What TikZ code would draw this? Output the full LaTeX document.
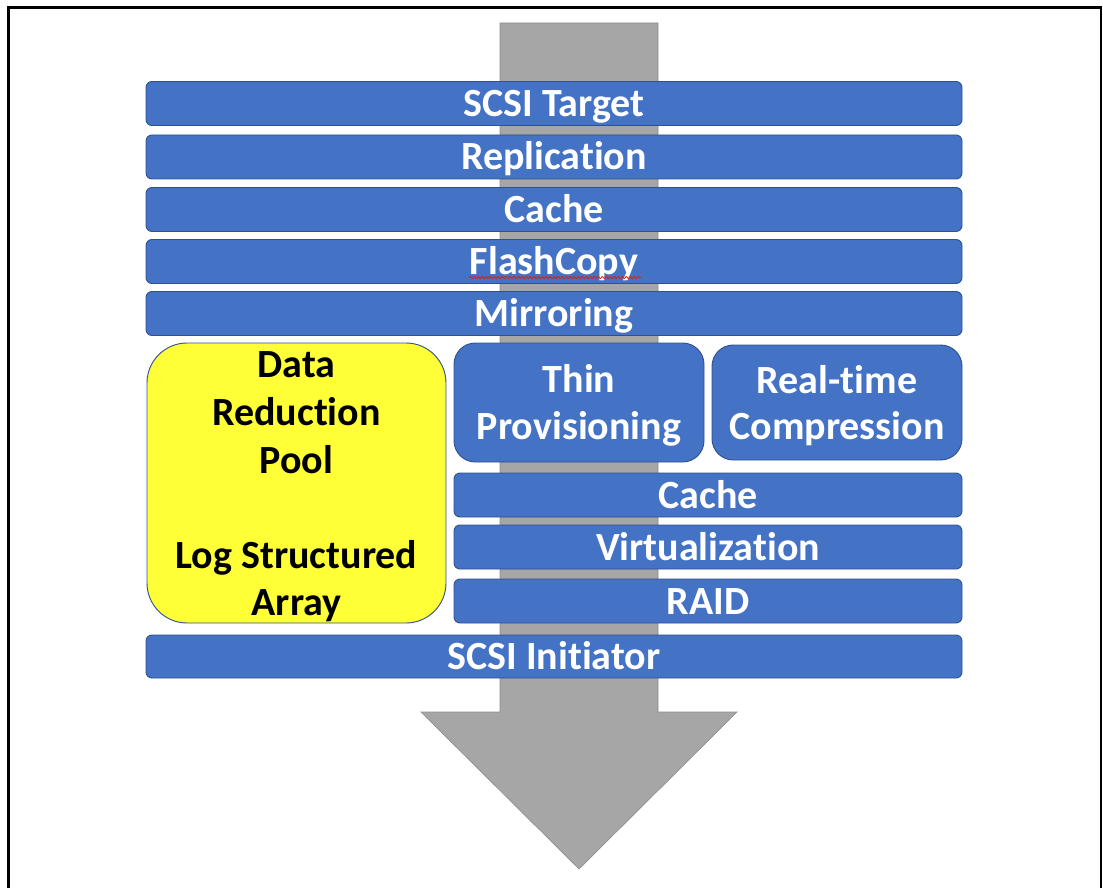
\documentclass[tikz,border=0pt]{standalone}
\usepackage{fontspec}
\setmainfont{Carlito}[Ligatures=NoCommon]
\usetikzlibrary{decorations.pathmorphing}
\definecolor{barblue}{HTML}{4472C4}
\definecolor{barline}{HTML}{2F528F}
\definecolor{arrowgray}{HTML}{A6A6A6}
\definecolor{arrowline}{HTML}{8E8E8E}
\definecolor{poolyellow}{HTML}{FFFF38}
\definecolor{squiggle}{HTML}{D42020}
\begin{document}
\begin{tikzpicture}[x=0.75pt,y=-0.75pt,
  barbox/.style={draw=barline, line width=0.7pt, fill=barblue, rounded corners=4.5pt,
    text=white, font=\bfseries\fontsize{30}{35.5}\selectfont, inner sep=0pt,
    text height=19.5pt, text depth=0pt},
  fullbar/.style={barbox, minimum width=816*0.75pt, minimum height=44*0.75pt},
  halfbar/.style={barbox, minimum width=508*0.75pt, minimum height=44*0.75pt},
  featbox/.style={draw=barline, line width=0.7pt, fill=barblue, rounded corners=16pt,
    inner sep=0pt, minimum width=250*0.75pt},
  feattext/.style={text=white, font=\bfseries\fontsize{30}{35}\selectfont, inner sep=0pt,
    align=center},
  poolbox/.style={draw=barline, line width=0.7pt, fill=poolyellow, rounded corners=30pt,
    inner sep=0pt, minimum width=299*0.75pt, minimum height=280*0.75pt},
  pooltext/.style={text=black, font=\bfseries\fontsize{30}{35.7}\selectfont, inner sep=0pt,
    align=center},
  frameline/.style={draw=black, line width=1.9pt},
  flowarrow/.style={fill=arrowgray, draw=arrowline, line width=0.5pt}
]
\useasboundingbox (0,0) rectangle (1103,888);

% outer frame (open at the bottom)
\draw[frameline] (8.5,888) -- (8.5,7.5) -- (1101,7.5) -- (1101,888);

% big downward arrow
\path[flowarrow] (500,23) -- (658,23) -- (658,712) -- (737,712) -- (579,869)
  -- (421,712) -- (500,712) -- cycle;

% full-width bars
\node[fullbar] (target) at (554,103.5) {SCSI Target};
\node[fullbar] (repl)   at (554,157)   {Replication};
\node[fullbar] (cacheA) at (554,209.5) {Cache};
\node[fullbar] (flash)  at (554,261.5) {FlashCopy};
\node[fullbar] (mirror) at (554,313.5) {Mirroring};

% spell-check squiggle under FlashCopy
\draw[squiggle, line width=0.55pt, decorate,
  decoration={snake, amplitude=0.8pt, segment length=3pt}]
  ([xshift=-85*0.75pt, yshift=-16*0.75pt]flash.center) coordinate (sqA)
  -- ([xshift=87*0.75pt, yshift=-16*0.75pt]flash.center) coordinate (sqB);

% data reduction pool
\node[poolbox] (pool) at (296.5,483) {};
\node[pooltext] (pooltxt) at ([yshift=-4*0.75pt]pool.center)
  {Data\\Reduction\\Pool\\\mbox{}\\Log Structured\\Array};

% feature boxes
\node[featbox, minimum height=119*0.75pt] (thin) at (579,402.5) {};
\node[feattext] (thintxt) at ([yshift=-3*0.75pt]thin.center) {Thin\\Provisioning};
\node[featbox, minimum height=115*0.75pt] (rtc)  at (837,402.5) {};
\node[feattext] (rtctxt) at ([yshift=-3*0.75pt]rtc.center) {Real-time\\Compression};

% half bars
\node[halfbar] (cacheB) at (708,495)   {Cache};
\node[halfbar] (virt)   at (708,547)   {Virtualization};
\node[halfbar] (raid)   at (708,601)   {RAID};

% bottom bar
\node[fullbar, minimum height=43*0.75pt] (init) at (554,656.5) {SCSI Initiator};
\end{tikzpicture}
\end{document}
